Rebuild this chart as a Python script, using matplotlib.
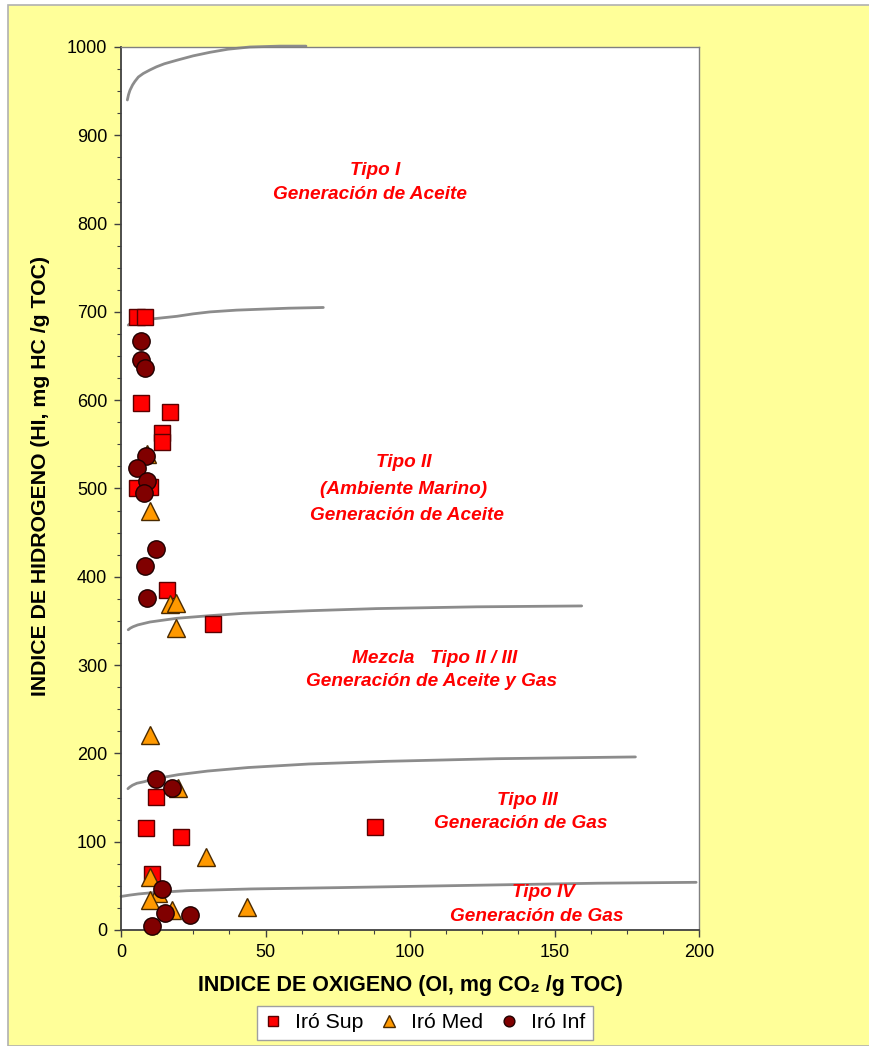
import matplotlib
matplotlib.use("Agg")
import matplotlib.pyplot as plt
from matplotlib.patches import Rectangle
from matplotlib.ticker import MultipleLocator

plt.rcParams['font.family'] = ['Liberation Sans', 'DejaVu Sans']

# --- data -------------------------------------------------------------
sup_oi = [5.4, 8.3, 6.9, 17.0, 14.1, 14.1, 5.4, 10.0, 15.8, 31.7, 12.0, 8.7, 20.8, 87.9, 10.6]
sup_hi = [694, 694, 597, 587, 563, 553, 500, 502, 385, 347, 151, 116, 105, 117, 63]

med_oi = [9.1, 10.2, 17.0, 19.2, 19.2, 10.2, 19.8, 29.4, 10.2, 12.9, 10.2, 17.8, 43.5]
med_hi = [539, 475, 369, 370, 342, 221, 161, 83, 60, 42, 34, 23, 26]

inf_oi = [6.8, 6.8, 8.2, 8.7, 5.4, 8.9, 8.0, 12.0, 8.2, 8.9, 12.0, 17.7, 14.1, 15.2, 23.9, 10.6]
inf_hi = [667, 646, 636, 537, 523, 508, 495, 432, 412, 376, 171, 161, 46, 19, 17, 4]

# kerogen type boundary curves (OI, HI)
b1_oi = [2.2, 2.6, 3.1, 4.0, 4.8, 6.0, 7.7, 10.0, 12.3, 15.0, 19.3, 25.0, 30.8, 37.0, 44.6, 55.0, 64.0]
b1_hi = [940, 946, 951, 957, 961, 966, 970, 974, 977.6, 981, 985, 990, 994, 997.5, 1000, 1001, 1001]
b2_oi = [2.5, 3.2, 4.2, 5.8, 7.7, 10.0, 13.5, 19.3, 25.0, 30.8, 40.0, 48.0, 58.0, 70.0]
b2_hi = [685, 686.8, 688, 689.4, 690.5, 691.8, 693, 695, 697.8, 700, 702, 703, 704.2, 705]
b3_oi = [2.5, 3.2, 4.2, 5.8, 7.7, 10.0, 13.5, 19.3, 30.8, 42.3, 65.4, 88.5, 123.0, 159.4]
b3_hi = [340, 341.8, 343.5, 345.5, 347, 348.8, 350.4, 353, 356, 358.6, 361.6, 364, 366, 367]
b4_oi = [2.4, 3.0, 4.0, 5.5, 8.1, 10.0, 13.0, 20.0, 30.0, 44.0, 65.0, 91.7, 130.0, 178.0]
b4_hi = [160, 161.8, 164, 166.2, 168, 170, 172, 176, 180, 184, 188, 191, 194, 196]
b5_oi = [0.0, 3.0, 6.0, 10.0, 22.7, 45.0, 75.6, 128.6, 165.0, 199.0]
b5_hi = [38, 39.5, 40.8, 42, 44.5, 46.5, 48, 51, 53, 54]

x_ticks = [0, 50, 100, 150, 200]
y_ticks = [0, 100, 200, 300, 400, 500, 600, 700, 800, 900, 1000]

zone_labels = [
    (88, 860, "Tipo I"),
    (86, 833, "Generación de Aceite"),
    (98, 529, "Tipo II"),
    (97.6, 499, "(Ambiente Marino)"),
    (99, 469, "Generación de Aceite"),
    (108.6, 308, "Mezcla   Tipo II / III"),
    (107.6, 281, "Generación de Aceite y Gas"),
    (140.5, 147, "Tipo III"),
    (138.4, 121, "Generación de Gas"),
    (146, 42, "Tipo IV"),
    (144, 15, "Generación de Gas"),
]

# --- figure -----------------------------------------------------------
W, H = 870, 1046
fig = plt.figure(figsize=(W / 100, H / 100), dpi=100)
fig.patch.set_facecolor('white')
fig.add_artist(Rectangle((8 / W, 0), 1 - 8 / W + 0.01, 1 - 5 / H, transform=fig.transFigure,
                         facecolor='#FFFF99', edgecolor='#B0B0B0', linewidth=1.2, zorder=0))

ax = fig.add_axes([121 / W, 116 / H, 578 / W, 883 / H])
ax.set_facecolor('white')
ax.set_xlim(0, 200)
ax.set_ylim(0, 1000)

curve_kw = dict(color='#8C8C8C', linewidth=2.0, solid_capstyle='round',
                solid_joinstyle='round', zorder=2, clip_on=False)
for xs, ys in [(b1_oi, b1_hi), (b2_oi, b2_hi), (b3_oi, b3_hi), (b4_oi, b4_hi), (b5_oi, b5_hi)]:
    ax.plot(xs, ys, **curve_kw)

ax.plot(sup_oi, sup_hi, linestyle='none', marker='s', markersize=12,
        markerfacecolor='#FF0000', markeredgecolor='#5A0000', markeredgewidth=1.0,
        label='Iró Sup', zorder=3, clip_on=False)
ax.plot(med_oi, med_hi, linestyle='none', marker='^', markersize=13,
        markerfacecolor='#FF9900', markeredgecolor='#4A2A00', markeredgewidth=1.0,
        label='Iró Med', zorder=4, clip_on=False)
ax.plot(inf_oi, inf_hi, linestyle='none', marker='o', markersize=12.5,
        markerfacecolor='#800000', markeredgecolor='#200000', markeredgewidth=1.0,
        label='Iró Inf', zorder=5, clip_on=False)

for x, y, s in zone_labels:
    ax.text(x, y, s, color='#FF0000', fontsize=13.7, fontweight='bold', fontstyle='italic',
            ha='center', va='center', zorder=6)

ax.set_xticks(x_ticks)
ax.set_yticks(y_ticks)
ax.xaxis.set_minor_locator(MultipleLocator(12.5))
ax.yaxis.set_minor_locator(MultipleLocator(25))
ax.tick_params(which='major', direction='out', length=5, width=1, color='#404040',
               labelsize=13, pad=5)
ax.tick_params(which='minor', direction='out', length=3, width=0.8, color='#404040')

for side in ('left', 'bottom'):
    ax.spines[side].set_color('#404040')
    ax.spines[side].set_linewidth(1.3)
for side in ('top', 'right'):
    ax.spines[side].set_color('#808080')
    ax.spines[side].set_linewidth(1.0)

ax.set_xlabel('INDICE DE OXIGENO (OI, mg CO₂ /g TOC)', fontsize=15.5, fontweight='bold',
              labelpad=10)
ax.set_ylabel('INDICE DE HIDROGENO (HI, mg HC /g TOC)', fontsize=15.3, fontweight='bold')
ax.yaxis.set_label_coords(-0.123, 0.514)

leg = fig.legend(loc='center', bbox_to_anchor=(425 / W, 23 / H), ncol=3,
                 fontsize=15.3, markerscale=0.62, frameon=True, fancybox=False,
                 edgecolor='#A0A0A0', facecolor='white', framealpha=1,
                 handlelength=0.8, handletextpad=0.65, columnspacing=0.8,
                 borderpad=0.35, borderaxespad=0)
leg.get_frame().set_linewidth(1.0)

fig.savefig('out.png', dpi=100, facecolor=fig.get_facecolor())
